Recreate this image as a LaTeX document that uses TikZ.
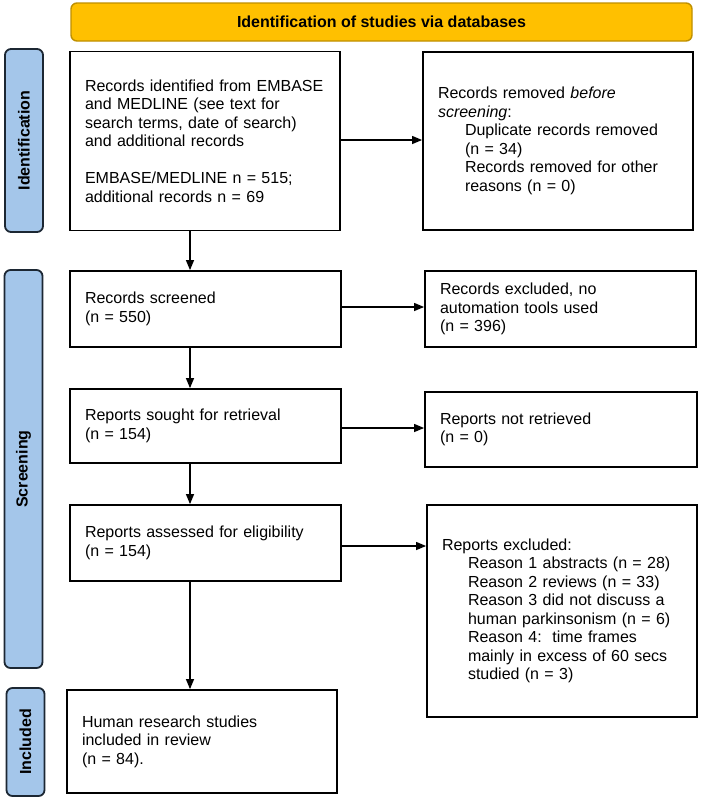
\documentclass[tikz,border=0pt]{standalone}
\usepackage{fontspec}
\setmainfont{Liberation Sans}
\usetikzlibrary{arrows.meta}
\definecolor{bannerfill}{HTML}{FFC000}
\definecolor{bannerdraw}{HTML}{BF9000}
\definecolor{labelfill}{HTML}{A4C6EA}
\definecolor{labeldraw}{HTML}{1C2733}
\begin{document}
\begin{tikzpicture}[x=1pt,y=-1pt,
  txt/.style={font=\fontsize{16}{18.5}\selectfont},
  box/.style={txt,draw=black,line width=1.8pt,align=left,inner xsep=15pt,inner ysep=0pt,rectangle},
  sidelabel/.style={draw=labeldraw,fill=labelfill,line width=1.8pt,rounded corners=6pt,rotate=90,
     font=\fontsize{16}{18}\selectfont\bfseries,inner sep=0pt,minimum height=38pt},
  arr/.style={line width=1.2pt,-{Triangle[length=10pt,width=8pt]}}]
\useasboundingbox (0,0) rectangle (702,801);
\fill[white] (0,0) rectangle (702,801);

% banner
\node[draw=bannerdraw,fill=bannerfill,line width=1.4pt,rounded corners=6pt,
  minimum width=621pt,minimum height=38pt,inner sep=0pt,
  font=\fontsize{16}{18}\selectfont\bfseries] (banner) at (381.5,22) {Identification of studies via databases};

% side labels
\node[sidelabel,minimum width=183pt] (lid) at (24,140.5) {Identification};
\node[sidelabel,minimum width=398pt] (lsc) at (23.5,469) {Screening};
\node[sidelabel,minimum width=108pt] (lin) at (25.5,742) {Included};

% left column
\node[box,text width=240pt,minimum height=179pt] (ident) at (205,141)
 {Records identified from EMBASE\\ and MEDLINE (see text for\\ search terms, date of search)\\ and additional records\\[18.5pt]
  EMBASE/MEDLINE n = 515;\\ additional records n = 69};
\node[box,text width=241pt,minimum height=76pt] (scr) at (205.5,309)
 {Records screened\\ (n = 550)};
\node[box,text width=241pt,minimum height=74pt] (sought) at (205.5,426)
 {Reports sought for retrieval\\ (n = 154)};
\node[box,text width=241pt,minimum height=76pt] (assess) at (205.5,543)
 {Reports assessed for eligibility\\ (n = 154)};
\node[box,text width=240pt,minimum height=103pt] (incl) at (202,741.5)
 {Human research studies\\ included in review\\ (n = 84).};

% right column
\node[box,text width=240pt,minimum height=178pt] (removed) at (558,141)
 {Records removed \emph{before}\\ \emph{screening}:\\
  \hspace*{27pt}Duplicate records removed\\
  \hspace*{27pt}(n = 34)\\
  \hspace*{27pt}Records removed for other\\
  \hspace*{27pt}reasons (n = 0)};
\node[box,text width=241pt,minimum height=76pt] (excl) at (560.5,309)
 {Records excluded, no\\ automation tools used\\ (n = 396)};
\node[box,text width=242pt,minimum height=75pt] (notret) at (561,429.5)
 {Reports not retrieved\\ (n = 0)};
\node[box,text width=240pt,minimum height=212pt] (repexcl) at (562,611)
 {Reports excluded:\\
  \hspace*{26pt}Reason 1 abstracts (n = 28)\\
  \hspace*{26pt}Reason 2 reviews (n = 33)\\
  \hspace*{26pt}Reason 3 did not discuss a\\
  \hspace*{26pt}human parkinsonism (n = 6)\\
  \hspace*{26pt}Reason 4:\ \ time frames\\
  \hspace*{26pt}mainly in excess of 60 secs\\
  \hspace*{26pt}studied (n = 3)};

% connectors
\coordinate (ax) at (190,0);
\draw[arr] (ident.south -| ax) -- (scr.north -| ax);
\draw[arr] (scr.south -| ax) -- (sought.north -| ax);
\draw[arr] (sought.south -| ax) -- (assess.north -| ax);
\draw[arr] (assess.south -| ax) -- (incl.north -| ax);

\coordinate (h1) at (0,140);
\coordinate (h2) at (0,307);
\coordinate (h3) at (0,428);
\coordinate (h4) at (0,546);
\draw[arr] (ident.east |- h1) -- (removed.west |- h1);
\draw[arr] (scr.east |- h2) -- (excl.west |- h2);
\draw[arr] (sought.east |- h3) -- (notret.west |- h3);
\draw[arr] (assess.east |- h4) -- (repexcl.west |- h4);
\end{tikzpicture}
\end{document}
